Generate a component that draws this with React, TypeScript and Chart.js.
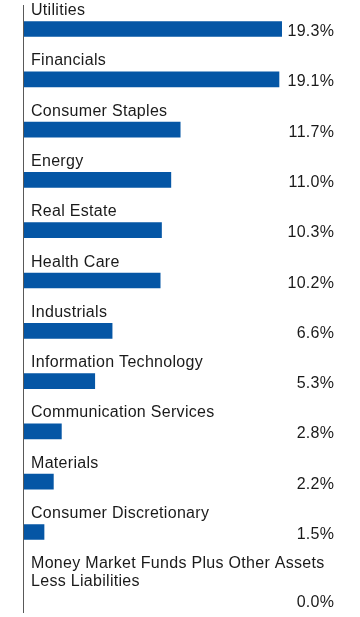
import React, { useEffect, useRef } from 'react';
import { Chart, registerables } from 'chart.js';

Chart.register(...registerables);

// ---- Data ----
const categories: string[] = [
  'Utilities',
  'Financials',
  'Consumer Staples',
  'Energy',
  'Real Estate',
  'Health Care',
  'Industrials',
  'Information Technology',
  'Communication Services',
  'Materials',
  'Consumer Discretionary',
  'Money Market Funds Plus Other Assets\nLess Liabilities',
];
const values: number[] = [19.3, 19.1, 11.7, 11.0, 10.3, 10.2, 6.6, 5.3, 2.8, 2.2, 1.5, 0.0];
const valueLabels: string[] = values.map((v) => v.toFixed(1) + '%');

// ---- Layout constants (pixel units on the y scale) ----
const W = 360;
const H = 617;
const ROW_BASE = 32.3;
const LINE_H = 18;
const BAR_OFFSET = 11;
const FONT = '16px "Liberation Sans", Arial, sans-serif';
const BAR_COLOR = '#0556a5';
const TEXT_COLOR = '#1a1a1a';
const AXIS_COLOR = '#595959';

function rowCenters(): number[] {
  const out: number[] = [];
  let start = 0;
  categories.forEach((c) => {
    const n = c.split('\n').length;
    out.push(start + LINE_H * n + BAR_OFFSET);
    start += ROW_BASE + LINE_H * n;
  });
  return out;
}

const labelsPlugin = {
  id: 'rowLabels',
  afterDatasetsDraw(chart: any) {
    const { ctx, chartArea } = chart;
    const meta = chart.getDatasetMeta(0);
    ctx.save();
    // axis line
    ctx.strokeStyle = AXIS_COLOR;
    ctx.lineWidth = 1;
    ctx.beginPath();
    ctx.moveTo(chartArea.left - 0.5, chartArea.top + 1);
    ctx.lineTo(chartArea.left - 0.5, chartArea.bottom);
    ctx.stroke();

    ctx.font = FONT;
    try {
      (ctx as any).letterSpacing = '0.3px';
    } catch (e) {
      /* ignore */
    }
    ctx.fillStyle = TEXT_COLOR;
    ctx.textBaseline = 'alphabetic';
    meta.data.forEach((bar: any, i: number) => {
      const lines = categories[i].split('\n');
      ctx.textAlign = 'left';
      lines.forEach((ln, j) => {
        ctx.fillText(ln, chartArea.left + 7, bar.y - 14 - LINE_H * (lines.length - 1 - j));
      });
      ctx.textAlign = 'right';
      ctx.fillText(valueLabels[i], chartArea.right - 10.1, bar.y + 7);
    });
    ctx.restore();
  },
};

export default function App() {
  const ref = useRef<HTMLCanvasElement | null>(null);

  useEffect(() => {
    document.body.style.margin = '0';
    if (!ref.current) return;
    const centers = rowCenters();
    const chart = new Chart(ref.current, {
      type: 'bar',
      data: {
        datasets: [
          {
            data: values.map((v, i) => ({ x: v, y: centers[i] })) as any,
            backgroundColor: values.map((v) => (v > 0 ? BAR_COLOR : 'rgba(0,0,0,0)')),
            borderWidth: 0,
            barThickness: 15,
          },
        ],
      },
      options: {
        indexAxis: 'y',
        responsive: false,
        animation: false,
        devicePixelRatio: 1,
        layout: { padding: { left: 24, right: 15.6, top: 4, bottom: 4 } },
        plugins: { legend: { display: false }, tooltip: { enabled: false } },
        scales: {
          x: { type: 'linear', min: 0, max: 24, display: false },
          y: {
            type: 'linear',
            min: 4,
            max: 613,
            reverse: true,
            display: false,
            offset: false,
            grid: { offset: false },
          },
        },
      },
      plugins: [labelsPlugin],
    });
    return () => chart.destroy();
  }, []);

  return (
    <div style={{ width: W, height: H }}>
      <canvas ref={ref} width={W} height={H} style={{ width: W, height: H, display: 'block' }} />
    </div>
  );
}
